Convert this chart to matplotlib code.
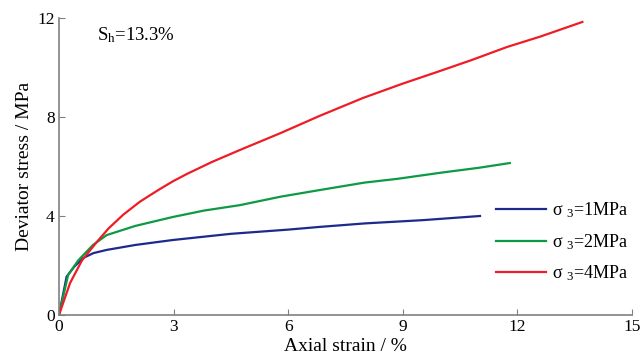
import numpy as np
import matplotlib.pyplot as plt

plt.rcParams['font.family'] = ['Liberation Serif', 'DejaVu Serif']
plt.rcParams['mathtext.fontset'] = 'custom'
plt.rcParams['mathtext.rm'] = 'Liberation Serif'
plt.rcParams['mathtext.it'] = 'Liberation Serif:italic'

# curves (axial strain %, deviator stress MPa)
strain_1 = [0, 0.2, 0.4, 0.63, 0.9, 1.25, 2.0, 2.98, 4.5, 6.0, 6.83, 8.0, 9.5, 11.02]
stress_1 = [0, 1.55, 1.95, 2.3, 2.5, 2.63, 2.83, 3.03, 3.28, 3.45, 3.56, 3.7, 3.83, 4.0]

strain_2 = [0, 0.24, 0.5, 0.89, 1.25, 2.0, 2.98, 3.8, 4.74, 5.8, 6.83, 8.0, 8.85, 10.0, 11.0, 11.8]
stress_2 = [0, 1.62, 2.2, 2.83, 3.23, 3.6, 3.96, 4.22, 4.44, 4.78, 5.05, 5.35, 5.5, 5.75, 5.95, 6.14]

strain_4 = [0, 0.29, 0.6, 0.99, 1.3, 1.68, 2.12, 2.6, 2.98, 3.35, 4.0, 4.74, 5.8, 6.83, 7.96, 9.0, 9.9, 10.8, 11.73, 12.6, 13.7]
stress_4 = [0, 1.29, 2.2, 2.95, 3.5, 4.05, 4.58, 5.05, 5.4, 5.7, 6.18, 6.67, 7.35, 8.05, 8.77, 9.35, 9.82, 10.3, 10.83, 11.25, 11.84]

labels = ['σ $_3$=1MPa', 'σ $_3$=2MPa', 'σ $_3$=4MPa']
colors = ['#1c2a8c', '#0c9a44', '#ee1c25']

fig = plt.figure(figsize=(6.41, 3.6), dpi=100)
ax = fig.add_axes([0.092, 0.125, 0.894, 0.825])

for xs, ys, lab, c in zip([strain_1, strain_2, strain_4], [stress_1, stress_2, stress_4], labels, colors):
    ax.plot(xs, ys, color=c, lw=1.6, label=lab)

ax.set_xlim(0, 15)
ax.set_ylim(0, 12)
ax.set_xticks([0, 3, 6, 9, 12, 15])
ax.set_yticks([0, 4, 8, 12])
for s in ['top', 'right']:
    ax.spines[s].set_visible(False)
for s in ['left', 'bottom']:
    ax.spines[s].set_color('#808080')
    ax.spines[s].set_linewidth(1.2)
ax.tick_params(direction='in', length=4, color='#808080', labelsize=12.5, pad=3)

ax.set_xlabel('Axial strain / %', fontsize=14, labelpad=2)
ax.set_ylabel('Deviator stress / MPa', fontsize=14, labelpad=3)

ax.text(0.066, 0.975, 'S$_\\mathrm{h}$=13.3%', transform=ax.transAxes, fontsize=13.5, va='top')

ax.legend(loc='center left', bbox_to_anchor=(0.735, 0.246), frameon=False, fontsize=13,
          handlelength=2.75, labelspacing=0.65, handletextpad=0.35)

fig.savefig('out.png', dpi=100)
